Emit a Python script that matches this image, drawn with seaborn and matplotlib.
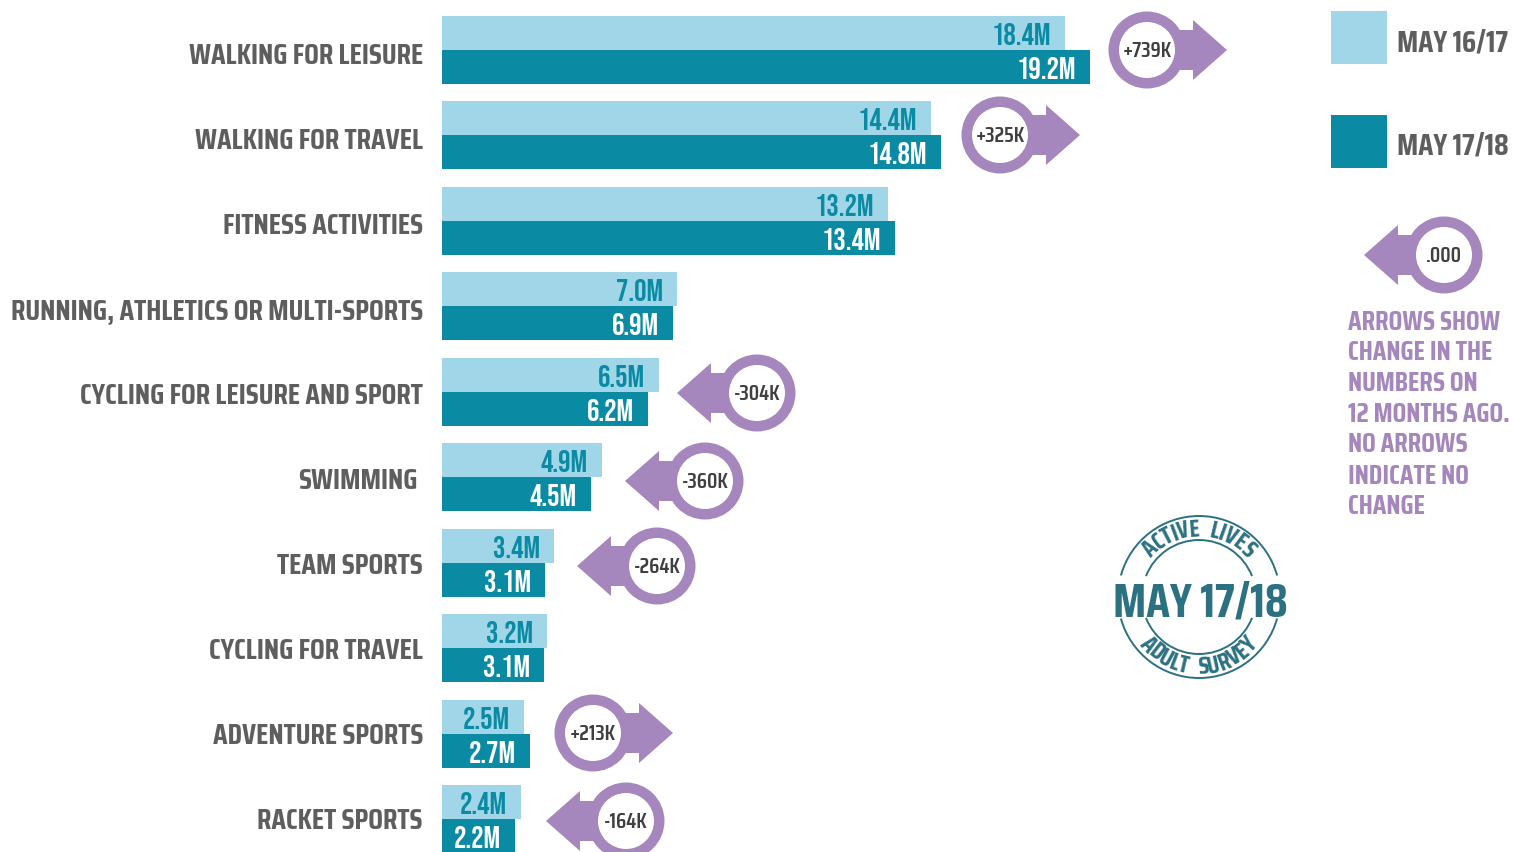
import numpy as np
import pandas as pd
import matplotlib
matplotlib.use("Agg")
import matplotlib.pyplot as plt
from matplotlib.font_manager import FontProperties
from matplotlib.patches import Circle, Polygon, Rectangle, Arc
from matplotlib.transforms import ScaledTranslation
import seaborn as sns

categories = ["WALKING FOR LEISURE", "WALKING FOR TRAVEL", "FITNESS ACTIVITIES",
              "RUNNING, ATHLETICS OR MULTI-SPORTS", "CYCLING FOR LEISURE AND SPORT",
              "SWIMMING", "TEAM SPORTS", "CYCLING FOR TRAVEL", "ADVENTURE SPORTS", "RACKET SPORTS"]
period_a = "MAY 16/17"
period_b = "MAY 17/18"
values_a = [18.46, 14.49, 13.21, 6.96, 6.43, 4.74, 3.32, 3.11, 2.43, 2.34]
values_b = [19.2, 14.79, 13.42, 6.84, 6.10, 4.41, 3.05, 3.02, 2.61, 2.16]
labels_a = ["18.4M", "14.4M", "13.2M", "7.0M", "6.5M", "4.9M", "3.4M", "3.2M", "2.5M", "2.4M"]
labels_b = ["19.2M", "14.8M", "13.4M", "6.9M", "6.2M", "4.5M", "3.1M", "3.1M", "2.7M", "2.2M"]
change_labels = ["+739K", "+325K", "-304K", "-360K", "-264K", "+213K", "-164K"]
change_x = [1147, 1000, 757, 705, 657, 593, 626]
change_y = [50, 135, 393, 481, 566, 733, 821]
note_lines = ["ARROWS SHOW", "CHANGE IN THE", "NUMBERS ON", "12 MONTHS AGO.",
              "NO ARROWS", "INDICATE NO", "CHANGE"]

LIGHT, DARK = "#A1D6E8", "#0A8BA3"
PURPLE, GREY, INK, STAMP = "#A587BD", "#5E5E5E", "#3F3F3F", "#2B7182"
W, H = 1513, 853
MAIN = ["Saira Condensed", "Liberation Sans", "DejaVu Sans"]
NUM = ["Bebas Neue", "Liberation Sans", "DejaVu Sans"]

sns.set_theme(style="white")
plt.rcParams["font.family"] = MAIN
plt.rcParams["font.weight"] = "bold"

df = pd.DataFrame({
    "activity": categories * 2,
    "period": [period_a] * 10 + [period_b] * 10,
    "people": values_a + values_b,
})

fig = plt.figure(figsize=(W / 100, H / 100), dpi=100, facecolor="white")
ax = fig.add_axes([442 / W, 0, (W - 442) / W, 1])
sns.barplot(data=df, x="people", y="activity", hue="period", order=categories,
            hue_order=[period_a, period_b], palette=[LIGHT, DARK], saturation=1,
            width=0.796, dodge=True, legend=False, linewidth=0, ax=ax)
ax.set_xlim(0, (W - 442) / 33.75)
ax.set_ylim((H - 51) / 85.44, -51 / 85.44)
ax.set_xlabel("")
ax.set_ylabel("")
ax.xaxis.set_visible(False)
sns.despine(ax=ax, left=True, bottom=True)
ax.tick_params(axis="y", length=0, pad=13.7)
for i, lab in enumerate(ax.get_yticklabels()):
    dx = -5 if lab.get_text() == "SWIMMING" else 0
    dy = 2 - 0.44 * i
    lab.set_fontsize(21)
    lab.set_color(GREY)
    lab.set_transform(lab.get_transform() + ScaledTranslation(dx / 100, -dy / 100, fig.dpi_scale_trans))

for cont, labs, col in [(ax.containers[0], labels_a, DARK), (ax.containers[1], labels_b, "white")]:
    for ann in ax.bar_label(cont, labels=labs, padding=-10, color=col, fontsize=22.3,
                            fontfamily=NUM, fontweight="normal"):
        ann.set_ha("right")

ov = fig.add_axes([0, 0, 1, 1], facecolor="none")
ov.set_xlim(0, W)
ov.set_ylim(H - 1, -1)
ov.axis("off")


def arrow(cx, cy, text):
    d = -1 if text[0] in "-." else 1
    pts = [(cx, cy - 20), (cx + d * 46, cy - 20), (cx + d * 46, cy - 30), (cx + d * 80, cy),
           (cx + d * 46, cy + 30), (cx + d * 46, cy + 20), (cx, cy + 20)]
    ov.add_patch(Polygon(pts, closed=True, fc=PURPLE, ec="none", zorder=3))
    ov.add_patch(Circle((cx, cy), 38.5, fc=PURPLE, ec="none", zorder=3))
    ov.add_patch(Circle((cx, cy), 28, fc="white", ec="none", zorder=4))
    ov.text(cx, cy, text, ha="center", va="center", fontsize=15.5, color=INK, zorder=5, fontweight="semibold")


for lab, x, y in zip(change_labels, change_x, change_y):
    arrow(x, y, lab)
arrow(1444, 255, ".000")

# legend
ov.add_patch(Rectangle((1331, 11), 56, 53, fc=LIGHT, ec="none"))
ov.add_patch(Rectangle((1331, 115), 56, 53, fc=DARK, ec="none"))
ov.text(1397, 42, period_a, ha="left", va="center", fontsize=21.7, color=GREY)
ov.text(1397, 145, period_b, ha="left", va="center", fontsize=21.7, color=GREY)

# note
for line, y in zip(note_lines, [320, 350, 381, 412, 443, 474, 505]):
    ov.text(1348, y + 1, line, ha="left", va="center", fontsize=19.6, color=PURPLE)

# stamp
SX, SY = 1199, 597
for r, a in [(81, 15.4), (57, 21.5)]:
    ov.add_patch(Arc((SX, SY), 2 * r, 2 * r, theta1=180 + a, theta2=360 - a, color=STAMP, lw=1.4))
    ov.add_patch(Arc((SX, SY), 2 * r, 2 * r, theta1=a, theta2=180 - a, color=STAMP, lw=1.4))
ov.text(SX + 1, 602, period_b, ha="center", va="center", fontsize=34, color=STAMP)

renderer = fig.canvas.get_renderer()
stamp_font = FontProperties(family=MAIN, weight="bold", size=17.5)


def arc_text(text, radius, span, top=True):
    widths = [renderer.get_text_width_height_descent(c if c != " " else "n", stamp_font, False)[0]
              for c in text]
    cum = np.cumsum([0] + widths)
    total = cum[-1]
    for i, ch in enumerate(text):
        if ch == " ":
            continue
        ang = -span + 2 * span * (cum[i] + widths[i] / 2) / total
        rad = np.radians(ang)
        if top:
            x, y = SX + radius * np.sin(rad), SY - radius * np.cos(rad)
            rot = -ang
        else:
            x, y = SX + radius * np.sin(rad), SY + radius * np.cos(rad)
            rot = ang
        ov.text(x, y, ch, ha="center", va="center", rotation=rot, rotation_mode="anchor",
                fontproperties=stamp_font, color=STAMP)


arc_text("ACTIVE LIVES", 69, 50, True)
arc_text("ADULT SURVEY", 69, 52, False)

fig.savefig("out.png", dpi=100, facecolor="white")
